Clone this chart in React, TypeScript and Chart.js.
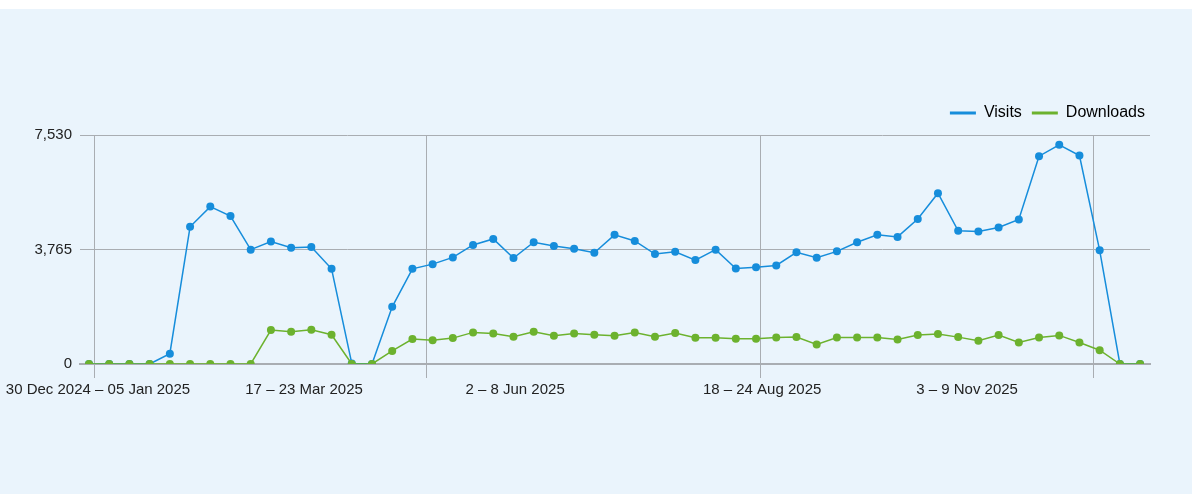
import React, { useEffect, useRef } from "react";
import { Chart, registerables } from "chart.js";

Chart.register(...registerables);

// Weekly data, week 0 = 30 Dec 2024 – 05 Jan 2025 ... week 52 = 29 Dec 2025 – 04 Jan 2026
const visits = [
  0, 0, 0, 0, 340, 4510, 5175, 4865, 3760, 4025, 3826, 3848, 3130, 20, 0,
  1880, 3130, 3284, 3505, 3914, 4113, 3483, 4003, 3881, 3793, 3660, 4246,
  4047, 3615, 3693, 3417, 3759, 3140, 3184, 3240, 3671, 3494, 3704, 4003,
  4246, 4179, 4766, 5616, 4378, 4356, 4489, 4754, 6833, 7208, 6855, 3737,
  0, 0,
];
const downloads = [
  0, 0, 0, 0, 0, 0, 0, 0, 0, 1117, 1061, 1128, 962, 0, 0, 431, 818, 785,
  851, 1039, 1006, 896, 1061, 929, 1006, 962, 929, 1039, 896, 1017, 862,
  862, 829, 829, 873, 884, 641, 873, 873, 873, 807, 951, 984, 884, 763, 951,
  707, 873, 940, 707, 453, 0, 0,
];
const weekIndex = visits.map((_, i) => i);

const seriesNames = ["Visits", "Downloads"];
const yTicks = [0, 3765, 7530];
const xTickLabels = [
  "30 Dec 2024 – 05 Jan 2025",
  "17 – 23 Mar 2025",
  "2 – 8 Jun 2025",
  "18 – 24 Aug 2025",
  "3 – 9 Nov 2025",
];
const xTickAt = [0.445, 10.64, 21.08, 33.3, 43.44];
const xGridAt = [0.25, 16.72, 33.2, 49.68];

const BLUE = "#168ddb";
const GREEN = "#6cb22e";
const FONT = "'Liberation Sans', Arial, sans-serif";

export default function App() {
  const ref = useRef<HTMLCanvasElement | null>(null);

  useEffect(() => {
    document.body.style.margin = "0";
    const canvas = ref.current;
    if (!canvas) return;

    const allTicks = [
      ...xGridAt.map((v) => ({ value: v, label: "" })),
      ...xTickAt.map((v, i) => ({ value: v, label: xTickLabels[i] })),
    ];

    const legendTweak = {
      id: "legendTweak",
      beforeInit(chart: any) {
        const legend = chart.legend;
        if (!legend) return;
        const fit = legend.fit;
        legend.fit = function () {
          fit.call(legend);
          legend.height += 4;
        };
      },
      afterLayout(chart: any) {
        const legend = chart.legend;
        if (!legend) return;
        legend.left += 5;
        legend.right += 5;
      },
    };

    const chart = new Chart(canvas, {
      type: "line",
      data: {
        datasets: [
          {
            label: seriesNames[0],
            data: weekIndex.map((x) => ({ x, y: visits[x] })),
            borderColor: BLUE,
            backgroundColor: BLUE,
            borderWidth: 1.5,
            pointRadius: 4,
            pointBorderWidth: 0,
            pointBackgroundColor: BLUE,
            tension: 0,
            order: 1,
          },
          {
            label: seriesNames[1],
            data: weekIndex.map((x) => ({ x, y: downloads[x] })),
            borderColor: GREEN,
            backgroundColor: GREEN,
            borderWidth: 1.5,
            pointRadius: 4,
            pointBorderWidth: 0,
            pointBackgroundColor: GREEN,
            tension: 0,
            order: 0,
          },
        ],
      },
      options: {
        animation: false,
        responsive: true,
        maintainAspectRatio: false,
        layout: { padding: { top: 86, right: 42, bottom: 92, left: 0 } },
        plugins: {
          tooltip: { enabled: false },
          legend: {
            position: "top",
            align: "end",
            labels: {
              boxWidth: 26,
              boxHeight: 3,
              padding: 10,
              color: "#222",
              font: { family: FONT, size: 16 },
              sort: (a: any, b: any) => a.datasetIndex - b.datasetIndex,
              generateLabels: (ch: any) =>
                ch.data.datasets.map((ds: any, i: number) => ({
                  text: ds.label,
                  fillStyle: ds.borderColor,
                  strokeStyle: ds.borderColor,
                  lineWidth: 0,
                  hidden: false,
                  datasetIndex: i,
                })),
            },
          },
        },
        scales: {
          x: {
            type: "linear",
            min: -0.445,
            max: 52.49,
            afterBuildTicks: (scale: any) => {
              scale.ticks = allTicks.map((t) => ({ value: t.value }));
            },
            ticks: {
              autoSkip: false,
              maxRotation: 0,
              minRotation: 0,
              padding: 3,
              color: "#222",
              font: { family: FONT, size: 15 },
              callback: (_v: any, i: number) => allTicks[i]?.label ?? "",
            },
            grid: {
              color: (ctx: any) =>
                ctx.tick && xGridAt.includes(ctx.tick.value) ? "#a9adb2" : "rgba(0,0,0,0)",
              lineWidth: 1,
              tickLength: 14,
            },
            border: { display: true, color: "#a9adb2", width: 2 },
          },
          y: {
            min: 0,
            max: 7530,
            afterBuildTicks: (scale: any) => {
              scale.ticks = yTicks.map((v) => ({ value: v }));
            },
            afterFit: (scale: any) => {
              scale.width = 80;
            },
            ticks: {
              padding: 8,
              color: "#222",
              font: { family: FONT, size: 15 },
              callback: (v: any) => Number(v).toLocaleString("en-US"),
            },
            grid: { color: "#a9adb2", lineWidth: 1, drawTicks: false },
            border: { display: false },
          },
        },
      },
      plugins: [legendTweak],
    });

    return () => chart.destroy();
  }, []);

  return (
    <div
      style={{
        position: "absolute",
        top: 9,
        left: 0,
        width: 1192,
        height: 485,
        background: "#eaf4fc",
      }}
    >
      <canvas ref={ref} />
    </div>
  );
}
